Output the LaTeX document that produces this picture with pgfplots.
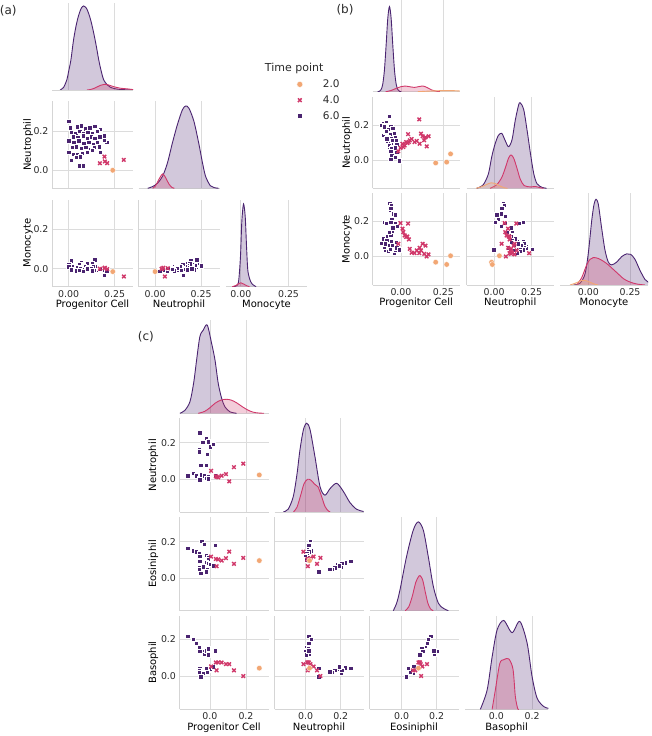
\documentclass[border=0pt]{standalone}
\usepackage{fontspec}
\setmainfont{DejaVu Sans}
\usepackage{pgfplots}
\usepackage{pgfplotstable}
\pgfplotsset{compat=1.18}

\definecolor{c2}{HTML}{F2A774}
\definecolor{c4}{HTML}{D0386A}
\definecolor{c6}{HTML}{4A2470}
\definecolor{gridc}{HTML}{DCDCDC}
\definecolor{spine}{HTML}{D5D5D5}
\definecolor{txt}{HTML}{2A2A2A}

% ---------------- panel (a) scatter data ----------------
\pgfplotstableread{
P N M
0.24 0.0 -0.015
}\aTwo
\pgfplotstableread{
P N M
0.195 0.070 0.002
0.170 0.036 0.000
0.197 0.045 0.005
0.210 0.036 -0.002
0.300 0.053 -0.040
}\aFour
\pgfplotstableread{
P N M
0.000 0.249 0.015
0.009 0.218 0.022
0.049 0.222 0.008
0.069 0.227 0.030
0.091 0.213 0.005
0.115 0.218 0.018
0.142 0.225 0.045
0.173 0.210 -0.005
0.013 0.193 0.040
0.038 0.190 0.012
0.060 0.198 0.020
0.082 0.188 0.002
0.104 0.195 0.010
0.128 0.188 0.025
0.155 0.198 0.000
0.191 0.176 -0.008
0.024 0.171 0.018
0.049 0.168 0.000
0.078 0.176 0.015
0.100 0.164 0.028
0.122 0.171 0.005
0.142 0.164 0.012
0.170 0.171 -0.006
0.206 0.142 -0.010
0.000 0.151 0.022
0.027 0.142 0.006
0.055 0.151 -0.003
0.082 0.137 0.010
0.109 0.142 -0.005
0.133 0.134 0.014
0.155 0.142 -0.008
0.195 0.154 -0.033
0.018 0.117 0.012
0.042 0.120 -0.004
0.067 0.114 0.008
0.093 0.117 -0.006
0.119 0.108 0.003
0.140 0.117 -0.008
0.166 0.120 0.004
0.000 0.092 0.010
0.024 0.083 -0.002
0.046 0.080 0.006
0.073 0.086 -0.006
0.100 0.092 0.000
0.128 0.103 -0.010
0.173 0.092 -0.004
0.013 0.053 -0.005
0.042 0.066 -0.010
0.064 0.069 0.002
0.060 0.024 -0.008
0.078 0.024 -0.012
}\aSix
% panel (a) densities (x, relative height)
\pgfplotstableread{
x y
-0.046 0
-0.027 0.03
-0.009 0.12
0.000 0.21
0.013 0.35
0.027 0.575
0.042 0.75
0.055 0.86
0.069 0.94
0.082 0.966
0.097 0.94
0.109 0.88
0.122 0.79
0.137 0.65
0.151 0.50
0.164 0.345
0.177 0.22
0.191 0.115
0.210 0.06
0.228 0.03
0.264 0.01
0.319 0.002
0.360 0
}\kaPsix
\pgfplotstableread{
x y
0.100 0
0.118 0.005
0.140 0.02
0.155 0.035
0.175 0.055
0.195 0.065
0.215 0.06
0.235 0.045
0.260 0.03
0.283 0.02
0.319 0.013
0.350 0.005
0.370 0
}\kaPfour
\pgfplotstableread{
x y
-0.040 0
-0.013 0.02
0.014 0.06
0.041 0.14
0.067 0.29
0.094 0.52
0.121 0.73
0.148 0.90
0.166 0.946
0.184 0.92
0.211 0.77
0.238 0.51
0.256 0.31
0.274 0.14
0.300 0.03
0.320 0.008
0.345 0
}\kaNsix
\pgfplotstableread{
x y
-0.013 0
0.003 0.03
0.020 0.10
0.041 0.165
0.058 0.12
0.075 0.05
0.092 0.01
0.105 0
}\kaNfour
\pgfplotstableread{
x y
-0.041 0
-0.024 0.01
-0.012 0.06
-0.002 0.35
0.005 0.75
0.014 0.95
0.023 0.80
0.030 0.45
0.037 0.18
0.051 0.06
0.065 0.02
0.080 0
}\kaMsix
\pgfplotstableread{
x y
-0.045 0
-0.025 0.015
-0.012 0.035
0.000 0.045
0.015 0.03
0.030 0.012
0.045 0
}\kaMfour

% ---------------- panel (b) scatter data ----------------
\pgfplotstableread{
P N M
0.205 -0.017 -0.035
0.270 -0.012 -0.048
0.293 0.035 0.002
}\bTwo
\pgfplotstableread{
P N M
-0.016 0.050 0.071
-0.003 0.070 0.190
0.009 0.093 0.158
0.014 0.074 0.138
0.022 0.083 0.119
0.030 0.103 0.110
0.038 0.097 0.113
0.042 0.148 0.187
0.047 0.103 0.096
0.052 0.113 0.042
0.063 0.120 0.020
0.080 0.103 0.017
0.093 0.109 0.033
0.108 0.233 0.017
0.110 0.093 0.048
0.118 0.151 0.033
0.128 0.136 0.071
0.137 0.113 0.013
0.152 0.078 -0.002
0.163 0.136 0.010
0.145 0.130 0.060
}\bFour
\pgfplotstableread{
P N M
-0.069 0.252 0.040
-0.104 0.210 0.056
-0.089 0.214 0.046
-0.081 0.200 0.066
-0.094 0.190 0.037
-0.061 0.194 0.085
-0.114 0.200 0.075
-0.100 0.175 0.052
-0.075 0.175 0.027
-0.049 0.181 0.062
-0.085 0.155 0.085
-0.065 0.148 0.040
-0.041 0.155 0.017
-0.104 0.142 0.100
-0.075 0.132 0.062
-0.055 0.122 0.143
-0.035 0.132 0.033
-0.081 0.109 0.114
-0.061 0.097 0.119
-0.026 0.093 0.048
-0.069 0.083 0.138
-0.049 0.074 0.229
-0.035 0.070 0.190
-0.065 0.054 0.263
-0.045 0.045 0.244
-0.026 0.045 0.171
-0.055 0.025 0.214
-0.035 0.016 0.239
-0.061 0.006 0.196
-0.012 -0.004 0.037
-0.085 0.122 0.090
-0.094 0.161 0.071
-0.049 0.113 0.163
-0.030 0.113 0.081
-0.066 0.060 0.306
-0.058 0.066 0.292
-0.062 0.050 0.277
-0.100 0.190 0.196
-0.088 0.165 0.190
}\bSix
\pgfplotstableread{
x y
-0.138 0
-0.128 0.004
-0.118 0.021
-0.108 0.079
-0.098 0.23
-0.088 0.50
-0.078 0.80
-0.068 0.93
-0.058 0.80
-0.048 0.50
-0.038 0.23
-0.028 0.079
-0.018 0.021
-0.008 0.004
0.002 0
}\kbPsix
\pgfplotstableread{
x y
-0.090 0
-0.060 0.012
-0.030 0.035
0.000 0.055
0.025 0.062
0.050 0.055
0.080 0.047
0.105 0.055
0.130 0.062
0.155 0.045
0.180 0.02
0.210 0.005
0.230 0
}\kbPfour
\pgfplotstableread{
x y
0.100 0
0.180 0.008
0.250 0.012
0.300 0.012
0.350 0.008
0.400 0.004
}\kbPtwo
\pgfplotstableread{
x y
-0.116 0
-0.072 0.04
-0.038 0.16
-0.016 0.345
0.007 0.49
0.029 0.58
0.051 0.60
0.074 0.52
0.096 0.455
0.119 0.53
0.141 0.745
0.163 0.91
0.174 0.935
0.197 0.86
0.219 0.64
0.242 0.38
0.264 0.16
0.286 0.05
0.320 0.01
0.350 0
}\kbNsix
\pgfplotstableread{
x y
-0.027 0
0.018 0.04
0.051 0.12
0.074 0.22
0.096 0.33
0.112 0.364
0.130 0.33
0.152 0.22
0.174 0.10
0.200 0.03
0.242 0.015
0.275 0.02
0.309 0.005
0.330 0
}\kbNfour
\pgfplotstableread{
x y
-0.120 0
-0.080 0.02
-0.040 0.05
-0.020 0.06
0.010 0.05
0.040 0.025
0.070 0.005
0.090 0
}\kbNtwo
\pgfplotstableread{
x y
-0.090 0
-0.050 0.02
-0.020 0.12
0.000 0.35
0.020 0.70
0.034 0.88
0.046 0.937
0.060 0.88
0.080 0.62
0.100 0.38
0.120 0.25
0.140 0.22
0.170 0.25
0.200 0.31
0.230 0.34
0.254 0.335
0.280 0.28
0.310 0.16
0.340 0.06
0.360 0.03
0.380 0
}\kbMsix
\pgfplotstableread{
x y
-0.070 0
-0.040 0.08
-0.010 0.22
0.010 0.28
0.030 0.30
0.060 0.29
0.090 0.26
0.120 0.22
0.150 0.17
0.180 0.12
0.210 0.07
0.240 0.04
0.270 0.02
0.300 0.008
0.340 0
}\kbMfour
\pgfplotstableread{
x y
-0.110 0
-0.070 0.025
-0.040 0.05
-0.020 0.05
0.010 0.03
0.040 0.008
0.060 0
}\kbMtwo

% ---------------- panel (c) scatter data ----------------
\pgfplotstableread{
P N E B
0.274 0.022 0.096 0.043
}\cTwo
\pgfplotstableread{
P N E B
0.006 0.045 0.118 0.052
0.033 0.015 0.105 0.074
0.046 0.009 0.102 0.074
0.065 0.018 0.096 0.074
0.089 0.027 0.109 0.065
0.133 0.065 0.078 0.031
0.185 0.084 0.111 0.000
0.107 -0.013 0.145 0.065
0.037 0.012 0.065 0.031
}\cFour
\pgfplotstableread{
P N E B
-0.124 0.018 0.165 0.217
-0.093 0.033 0.151 0.200
-0.078 0.018 0.145 0.180
-0.059 0.005 0.133 0.157
-0.046 0.024 0.202 0.135
-0.033 0.018 0.187 0.120
-0.022 0.005 0.127 0.139
-0.009 0.015 0.115 0.148
-0.056 -0.004 0.120 0.135
-0.009 0.002 0.102 0.117
0.028 0.018 0.182 0.139
-0.056 0.256 0.094 0.042
-0.022 0.224 0.084 0.045
-0.041 0.202 0.062 0.015
-0.009 0.205 0.081 0.033
0.000 0.178 0.075 0.038
0.019 0.191 0.068 0.051
-0.059 0.165 0.057 0.033
-0.059 0.151 0.050 0.020
-0.015 0.136 0.050 0.024
-0.052 0.075 0.026 -0.004
-0.022 0.075 0.036 0.043
}\cSix
\pgfplotstableread{
x y
-0.167 0
-0.140 0.03
-0.111 0.124
-0.090 0.33
-0.074 0.57
-0.056 0.82
-0.037 0.89
-0.015 0.944
0.009 0.75
0.028 0.57
0.046 0.32
0.065 0.16
0.083 0.07
0.111 0.016
0.148 0
}\kcPsix
\pgfplotstableread{
x y
-0.065 0
-0.030 0.02
0.000 0.06
0.030 0.11
0.060 0.14
0.090 0.15
0.120 0.14
0.150 0.11
0.180 0.07
0.210 0.035
0.240 0.012
0.270 0.003
0.300 0
}\kcPfour
\pgfplotstableread{
x y
-0.128 0
-0.100 0.03
-0.071 0.164
-0.050 0.40
-0.033 0.66
-0.013 0.88
0.006 0.95
0.025 0.88
0.053 0.59
0.082 0.27
0.110 0.18
0.139 0.25
0.177 0.307
0.215 0.22
0.253 0.10
0.290 0.03
0.330 0.005
0.350 0
}\kcNsix
\pgfplotstableread{
x y
-0.070 0
-0.050 0.05
-0.030 0.17
-0.010 0.30
0.010 0.35
0.030 0.34
0.050 0.30
0.070 0.27
0.090 0.17
0.110 0.06
0.130 0.01
0.140 0
}\kcNfour
\pgfplotstableread{
x y
-0.048 0
-0.029 0.08
-0.010 0.22
0.028 0.58
0.066 0.86
0.095 0.95
0.124 0.86
0.152 0.58
0.181 0.26
0.210 0.08
0.238 0.026
0.267 0
}\kcEsix
\pgfplotstableread{
x y
0.020 0
0.040 0.04
0.060 0.15
0.080 0.30
0.095 0.36
0.105 0.375
0.120 0.33
0.135 0.20
0.150 0.08
0.165 0.02
0.180 0
}\kcEfour
\pgfplotstableread{
x y
-0.090 0
-0.052 0.206
-0.024 0.56
0.004 0.85
0.041 0.95
0.088 0.82
0.131 0.94
0.172 0.71
0.200 0.35
0.228 0.12
0.265 0.03
0.293 0.01
0.310 0
}\kcBsix
\pgfplotstableread{
x y
-0.024 0
-0.006 0.206
0.019 0.49
0.041 0.53
0.069 0.54
0.093 0.43
0.106 0.14
0.119 0.01
0.125 0
}\kcBfour

\pgfplotsset{
  base/.style={
    scale only axis, anchor=south west,
    axis x line*=bottom, axis y line*=left,
    axis line style={-, draw=spine, line width=0.9pt},
    major tick length=0pt, tick style={draw=none},
    xmajorgrids, ymajorgrids,
    major grid style={draw=gridc, line width=0.75pt},
    scaled ticks=false,
    tick label style={font=\fontsize{9.4}{10}\selectfont, text=txt},
    label style={font=\fontsize{10.7}{12}\selectfont, text=txt},
    every axis x label/.style={at={(axis description cs:0.5,0)}, anchor=center, yshift=-18pt},
    every axis y label/.style={at={(axis description cs:-0.295,0.5)}, anchor=center, rotate=90},
    xticklabels={}, yticklabels={},
  },
  dg/.style={base, ymin=0, ymax=1, ytick=\empty, axis y line=none, ymajorgrids=false},
  xl2/.style={xticklabel={\pgfmathprintnumber[fixed,fixed zerofill,precision=2,assume math mode=true]{\tick}}},
  xl1/.style={xticklabel={\pgfmathprintnumber[fixed,fixed zerofill,precision=1,assume math mode=true]{\tick}}},
  yl1/.style={yticklabel={\pgfmathprintnumber[fixed,fixed zerofill,precision=1,assume math mode=true]{\tick}}},
  s2/.style={only marks, mark=*, mark size=2.8pt, mark options={fill=c2, draw=white, line width=0.35pt}, forget plot},
  s4/.style={only marks, mark=x, mark size=2.5pt, mark options={draw=c4, line width=1.4pt}, forget plot},
  s6/.style={only marks, mark=square*, mark size=2.2pt, mark options={fill=c6, draw=white, line width=0.35pt}, forget plot},
  kf/.style={draw=none, fill=#1, fill opacity=0.25, smooth, tension=0.5, forget plot},
  kl/.style={draw=#1, line width=0.9pt, smooth, tension=0.5, forget plot},
  pa/.style={width=81pt, height=87pt, xtick={0,0.25}, ytick={0,0.2}},
  pb/.style={width=87pt, height=91.5pt, xtick={0,0.25}, ytick={0,0.2}},
  pc/.style={width=89pt, height=93.5pt, xtick={0,0.2}, ytick={0,0.2}},
}

\begin{document}
\begin{tikzpicture}[x=1pt,y=1pt]
\useasboundingbox (0,0) rectangle (651,736);

% ======================= panel (a) =======================
\begin{axis}[dg, pa, at={(52pt,646pt)}, xmin=-0.09, xmax=0.35]
\addplot[kf=c6] table {\kaPsix} \closedcycle;
\addplot[kl=c6] table {\kaPsix};
\addplot[kf=c4] table {\kaPfour} \closedcycle;
\addplot[kl=c4] table {\kaPfour};
\end{axis}

\begin{axis}[base, pa, at={(52pt,547.7pt)}, xmin=-0.09, xmax=0.35, ymin=-0.092, ymax=0.352, yl1, ylabel={Neutrophil},
  legend style={at={(axis description cs:3.02,1.273)}, anchor=north west, draw=none, fill=none,
    font=\fontsize{10.5}{12}\selectfont, text=txt, row sep=2.5pt, inner sep=0pt,
    /tikz/every odd column/.append style={column sep=18pt}},
  legend cell align=left,
  legend image code/.code={\draw[#1] plot coordinates {(3pt,0pt)};}]
\addplot[s6] table[x=P,y=N] {\aSix};
\addplot[s4] table[x=P,y=N] {\aFour};
\addplot[s2] table[x=P,y=N] {\aTwo};
\addlegendimage{mark=*, mark size=3pt, mark options={fill=c2, draw=white, line width=0.35pt}}
\addlegendentry{2.0}
\addlegendimage{mark=x, mark size=2.6pt, mark options={draw=c4, line width=1.5pt}}
\addlegendentry{4.0}
\addlegendimage{mark=square*, mark size=2.4pt, mark options={fill=c6, draw=white, line width=0.35pt}}
\addlegendentry{6.0}
\end{axis}

\begin{axis}[dg, pa, at={(138.5pt,547.7pt)}, xmin=-0.09, xmax=0.35]
\addplot[kf=c6] table {\kaNsix} \closedcycle;
\addplot[kl=c6] table {\kaNsix};
\addplot[kf=c4] table {\kaNfour} \closedcycle;
\addplot[kl=c4] table {\kaNfour};
\end{axis}

\begin{axis}[base, pa, at={(52pt,449.3pt)}, xmin=-0.09, xmax=0.35, ymin=-0.092, ymax=0.352, xl2, yl1,
  xlabel={Progenitor Cell}, ylabel={Monocyte}]
\addplot[s6] table[x=P,y=M] {\aSix};
\addplot[s4] table[x=P,y=M] {\aFour};
\addplot[s2] table[x=P,y=M] {\aTwo};
\end{axis}

\begin{axis}[base, pa, at={(138.5pt,449.3pt)}, xmin=-0.09, xmax=0.35, ymin=-0.092, ymax=0.352, xl2,
  xlabel={Neutrophil}]
\addplot[s6] table[x=N,y=M] {\aSix};
\addplot[s4] table[x=N,y=M] {\aFour};
\addplot[s2] table[x=N,y=M] {\aTwo};
\end{axis}

\begin{axis}[dg, pa, at={(226pt,449.3pt)}, xmin=-0.078, xmax=0.347, xl2, xlabel={Monocyte}]
\addplot[kf=c6] table {\kaMsix} \closedcycle;
\addplot[kl=c6] table {\kaMsix};
\addplot[kf=c4] table {\kaMfour} \closedcycle;
\addplot[kl=c4] table {\kaMfour};
\end{axis}

\node[font=\fontsize{11}{13}\selectfont, text=txt] at (294.2,668) {Time point};
\node[font=\fontsize{12}{14}\selectfont, text=txt] at (8.3,725.5) {(a)};

% ======================= panel (b) =======================
\begin{axis}[dg, pb, at={(372.7pt,644.3pt)}, xmin=-0.167, xmax=0.347]
\addplot[kf=c6] table {\kbPsix} \closedcycle;
\addplot[kl=c6] table {\kbPsix};
\addplot[kf=c4] table {\kbPfour} \closedcycle;
\addplot[kl=c4] table {\kbPfour};
\addplot[kf=c2] table {\kbPtwo} \closedcycle;
\addplot[kl=c2] table {\kbPtwo};
\end{axis}

\begin{axis}[base, pb, at={(372.7pt,547.7pt)}, xmin=-0.167, xmax=0.347, ymin=-0.162, ymax=0.362, yl1, ylabel={Neutrophil}]
\addplot[s6] table[x=P,y=N] {\bSix};
\addplot[s4] table[x=P,y=N] {\bFour};
\addplot[s2] table[x=P,y=N] {\bTwo};
\end{axis}

\begin{axis}[dg, pb, at={(466.7pt,547.7pt)}, xmin=-0.183, xmax=0.397]
\addplot[kf=c6] table {\kbNsix} \closedcycle;
\addplot[kl=c6] table {\kbNsix};
\addplot[kf=c4] table {\kbNfour} \closedcycle;
\addplot[kl=c4] table {\kbNfour};
\addplot[kf=c2] table {\kbNtwo} \closedcycle;
\addplot[kl=c2] table {\kbNtwo};
\end{axis}

\begin{axis}[base, pb, at={(372.7pt,451pt)}, xmin=-0.167, xmax=0.347, ymin=-0.166, ymax=0.360, xl2, yl1,
  xlabel={Progenitor Cell}, ylabel={Monocyte}]
\addplot[s6] table[x=P,y=M] {\bSix};
\addplot[s4] table[x=P,y=M] {\bFour};
\addplot[s2] table[x=P,y=M] {\bTwo};
\end{axis}

\begin{axis}[base, pb, at={(466.7pt,451pt)}, xmin=-0.183, xmax=0.397, ymin=-0.166, ymax=0.360, xl2,
  xlabel={Neutrophil}]
\addplot[s6] table[x=N,y=M] {\bSix};
\addplot[s4] table[x=N,y=M] {\bFour};
\addplot[s2] table[x=N,y=M] {\bTwo};
\end{axis}

\begin{axis}[dg, pb, width=88pt, at={(560pt,451pt)}, xmin=-0.170, xmax=0.358, xl2, xlabel={Monocyte}]
\addplot[kf=c6] table {\kbMsix} \closedcycle;
\addplot[kl=c6] table {\kbMsix};
\addplot[kf=c4] table {\kbMfour} \closedcycle;
\addplot[kl=c4] table {\kbMfour};
\addplot[kf=c2] table {\kbMtwo} \closedcycle;
\addplot[kl=c2] table {\kbMtwo};
\end{axis}

\node[font=\fontsize{12}{14}\selectfont, text=txt] at (345,726) {(b)};

% ======================= panel (c) =======================
\begin{axis}[dg, pc, at={(179.5pt,322.7pt)}, xmin=-0.169, xmax=0.325]
\addplot[kf=c6] table {\kcPsix} \closedcycle;
\addplot[kl=c6] table {\kcPsix};
\addplot[kf=c4] table {\kcPfour} \closedcycle;
\addplot[kl=c4] table {\kcPfour};
\end{axis}

\begin{axis}[base, pc, at={(179.5pt,224pt)}, xmin=-0.169, xmax=0.325, ymin=-0.182, ymax=0.333, yl1, ylabel={Neutrophil}]
\addplot[s6] table[x=P,y=N] {\cSix};
\addplot[s4] table[x=P,y=N] {\cFour};
\addplot[s2] table[x=P,y=N] {\cTwo};
\end{axis}

\begin{axis}[dg, pc, at={(274.5pt,224pt)}, xmin=-0.178, xmax=0.330]
\addplot[kf=c6] table {\kcNsix} \closedcycle;
\addplot[kl=c6] table {\kcNsix};
\addplot[kf=c4] table {\kcNfour} \closedcycle;
\addplot[kl=c4] table {\kcNfour};
\end{axis}

\begin{axis}[base, pc, at={(179.5pt,125.3pt)}, xmin=-0.169, xmax=0.325, ymin=-0.180, ymax=0.335, yl1, ylabel={Eosiniphil}]
\addplot[s6] table[x=P,y=E] {\cSix};
\addplot[s4] table[x=P,y=E] {\cFour};
\addplot[s2] table[x=P,y=E] {\cTwo};
\end{axis}

\begin{axis}[base, pc, at={(274.5pt,125.3pt)}, xmin=-0.178, xmax=0.330, ymin=-0.180, ymax=0.335]
\addplot[s6] table[x=N,y=E] {\cSix};
\addplot[s4] table[x=N,y=E] {\cFour};
\addplot[s2] table[x=N,y=E] {\cTwo};
\end{axis}

\begin{axis}[dg, pc, at={(369.5pt,125.3pt)}, xmin=-0.184, xmax=0.325]
\addplot[kf=c6] table {\kcEsix} \closedcycle;
\addplot[kl=c6] table {\kcEsix};
\addplot[kf=c4] table {\kcEfour} \closedcycle;
\addplot[kl=c4] table {\kcEfour};
\end{axis}

\begin{axis}[base, pc, at={(179.5pt,26.7pt)}, xmin=-0.169, xmax=0.325, ymin=-0.181, ymax=0.328, xl1, yl1,
  xlabel={Progenitor Cell}, ylabel={Basophil}]
\addplot[s6] table[x=P,y=B] {\cSix};
\addplot[s4] table[x=P,y=B] {\cFour};
\addplot[s2] table[x=P,y=B] {\cTwo};
\end{axis}

\begin{axis}[base, pc, at={(274.5pt,26.7pt)}, xmin=-0.178, xmax=0.330, ymin=-0.181, ymax=0.328, xl1,
  xlabel={Neutrophil}]
\addplot[s6] table[x=N,y=B] {\cSix};
\addplot[s4] table[x=N,y=B] {\cFour};
\addplot[s2] table[x=N,y=B] {\cTwo};
\end{axis}

\begin{axis}[base, pc, at={(369.5pt,26.7pt)}, xmin=-0.184, xmax=0.325, ymin=-0.181, ymax=0.328, xl1,
  xlabel={Eosiniphil}]
\addplot[s6] table[x=E,y=B] {\cSix};
\addplot[s4] table[x=E,y=B] {\cFour};
\addplot[s2] table[x=E,y=B] {\cTwo};
\end{axis}

\begin{axis}[dg, pc, width=83.3pt, at={(465pt,26.7pt)}, xmin=-0.176, xmax=0.291, xl1, xlabel={Basophil}]
\addplot[kf=c6] table {\kcBsix} \closedcycle;
\addplot[kl=c6] table {\kcBsix};
\addplot[kf=c4] table {\kcBfour} \closedcycle;
\addplot[kl=c4] table {\kcBfour};
\end{axis}

\node[font=\fontsize{12}{14}\selectfont, text=txt] at (145.8,399.3) {(c)};
\end{tikzpicture}
\end{document}
